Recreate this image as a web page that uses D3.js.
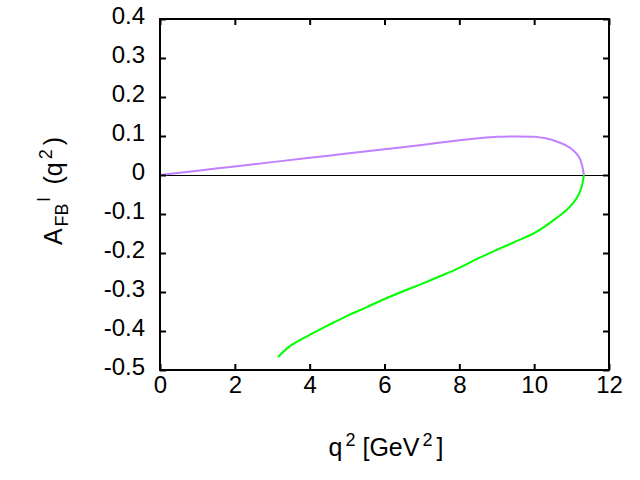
<!DOCTYPE html>
<html>
<head>
<meta charset="utf-8">
<script src="https://cdn.jsdelivr.net/npm/d3@7"></script>
<style>
	body { margin: 0; background: #fff; }
	text { font-family: "Liberation Sans", Arial, sans-serif; }
</style>
</head>
<body>
<script>
var xTicks = [0, 2, 4, 6, 8, 10, 12];
var yTicks = [-0.5, -0.4, -0.3, -0.2, -0.1, 0, 0.1, 0.2, 0.3, 0.4];

// upper branch (purple)
var q2Upper = [0, 1, 2, 3, 4, 5, 6, 7, 8, 8.5, 9, 9.5, 10, 10.3, 10.6, 10.85, 11.05, 11.2, 11.28, 11.33];
var afbUpper = [0, 0.011, 0.022, 0.033, 0.044, 0.055, 0.066, 0.077, 0.089, 0.094, 0.098, 0.099, 0.098, 0.094, 0.086, 0.076, 0.063, 0.046, 0.025, 0];

// lower branch (green)
var q2Lower = [3.15, 3.5, 4.0, 4.5, 5.0, 5.5, 6.0, 6.5, 7.0, 7.5, 8.0, 8.5, 9.0, 9.5, 10.0, 10.3, 10.6, 10.85, 11.05, 11.18, 11.27, 11.33];
var afbLower = [-0.467, -0.437, -0.41, -0.385, -0.361, -0.34, -0.318, -0.298, -0.279, -0.259, -0.238, -0.214, -0.192, -0.171, -0.149, -0.131, -0.11, -0.091, -0.071, -0.052, -0.03, 0];

var width = 640, height = 480;
var mLeft = 160, mRight = 609, mTop = 19, mBottom = 370;

var svg = d3.select("body").append("svg")
	.attr("width", width)
	.attr("height", height);

var x = d3.scaleLinear().domain([0, 12]).range([mLeft, mRight]);
var y = d3.scaleLinear().domain([-0.5, 0.4]).range([mBottom, mTop]);

function fmt(d) { return d === 0 ? "0" : d3.format(".1f")(d).replace("\u2212", "-"); }

// zero line
svg.append("line")
	.attr("x1", x(0)).attr("x2", x(12))
	.attr("y1", Math.round(y(0)) + 0.5).attr("y2", Math.round(y(0)) + 0.5)
	.attr("stroke", "#000").attr("stroke-width", 1);

var line = d3.line()
	.curve(d3.curveCatmullRom.alpha(0.5))
	.x(function(d) { return x(d[0]); })
	.y(function(d) { return y(d[1]); });

svg.append("path")
	.datum(d3.zip(q2Upper, afbUpper))
	.attr("d", line)
	.attr("fill", "none")
	.attr("stroke", "#c080ff")
	.attr("stroke-width", 2);

svg.append("path")
	.datum(d3.zip(q2Lower, afbLower))
	.attr("d", line)
	.attr("fill", "none")
	.attr("stroke", "#00ff00")
	.attr("stroke-width", 2);

// axes with inward ticks, mirrored
var tick = 6;
svg.append("g")
	.attr("transform", "translate(0," + mBottom + ")")
	.call(d3.axisBottom(x).tickValues(xTicks).tickSize(-tick).tickPadding(6).tickFormat(d3.format("d")));
svg.append("g")
	.attr("transform", "translate(0," + mTop + ")")
	.call(d3.axisTop(x).tickValues(xTicks).tickSize(-tick).tickFormat(""));
svg.append("g").attr("class", "yaxis")
	.attr("transform", "translate(" + mLeft + ",0)")
	.call(d3.axisLeft(y).tickValues(yTicks).tickSize(-tick).tickPadding(15).tickFormat(fmt));
svg.append("g")
	.attr("transform", "translate(" + mRight + ",0)")
	.call(d3.axisRight(y).tickValues(yTicks).tickSize(-tick).tickFormat(""));

svg.selectAll(".domain").remove();
svg.selectAll(".tick line").attr("stroke", "#000").attr("stroke-width", 2);
svg.selectAll(".tick text").attr("font-size", 24).attr("fill", "#000")
	.attr("font-family", "'Liberation Sans', Arial, sans-serif");
svg.selectAll(".yaxis .tick text").attr("dy", 4.5);

// frame
svg.append("rect")
	.attr("x", mLeft).attr("y", mTop)
	.attr("width", mRight - mLeft).attr("height", mBottom - mTop)
	.attr("fill", "none").attr("stroke", "#000").attr("stroke-width", 2);

// x title
var xt = svg.append("text")
	.attr("x", 386).attr("y", 456)
	.attr("text-anchor", "middle").attr("font-size", 25);
xt.append("tspan").text("q");
xt.append("tspan").attr("font-size", 18).attr("dx", 3).attr("dy", -10).text("2");
xt.append("tspan").attr("dy", 10).text(" [GeV");
xt.append("tspan").attr("font-size", 18).attr("dx", 3).attr("dy", -10).text("2");
xt.append("tspan").attr("dx", 4).attr("dy", 10).text("]");

// y title
var yt = svg.append("text")
	.attr("transform", "translate(62,191) rotate(-90)")
	.attr("text-anchor", "middle").attr("font-size", 25);
yt.append("tspan").text("A");
yt.append("tspan").attr("font-size", 18).attr("dx", 2).attr("dy", 6).text("FB");
yt.append("tspan").attr("font-size", 18).attr("dx", 2).attr("dy", -18).text("l");
yt.append("tspan").attr("dx", 6).attr("dy", 12).text(" (q");
yt.append("tspan").attr("font-size", 18).attr("dx", 3).attr("dy", -10).text("2");
yt.append("tspan").attr("dx", 4).attr("dy", 10).text(")");
</script>
</body>
</html>
